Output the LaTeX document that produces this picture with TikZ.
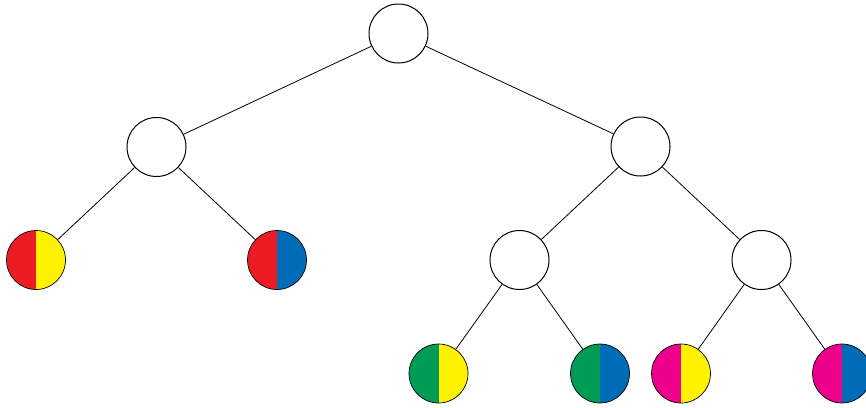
\documentclass[tikz,border=0pt]{standalone}
\usepackage{tikz}

\definecolor{cred}{HTML}{ED1C24}
\definecolor{cyellow}{HTML}{FFF200}
\definecolor{cblue}{HTML}{006BB6}
\definecolor{cgreen}{HTML}{009B55}
\definecolor{cmagenta}{HTML}{EC008C}

\tikzset{
  vertex/.style={circle,draw,line width=1pt,minimum size=59pt,inner sep=0pt,fill=white},
  halves/.style 2 args={vertex,line width=0.7pt,
    path picture={
      \fill[#1] (path picture bounding box.south west) rectangle (path picture bounding box.north);
      \fill[#2] (path picture bounding box.south) rectangle (path picture bounding box.north east);
    }},
  link/.style={line width=0.8pt}
}

\begin{document}
\begin{tikzpicture}[x=1pt,y=-1pt]
\useasboundingbox (0,0) rectangle (866,407);

%% Inner nodes
\node[vertex] (root) at (398.5,33.5) {};
\node[vertex] (l) at (156.5,147) {};
\node[vertex] (r) at (640.5,146.5) {};
\node[vertex] (rl) at (519.5,260) {};
\node[vertex] (rr) at (761.5,260) {};

%% Leaves
\node[halves={cred}{cyellow}] (ll) at (36,260) {};
\node[halves={cred}{cblue}] (lr) at (277,260) {};
\node[halves={cgreen}{cyellow}] (rll) at (438.5,373.5) {};
\node[halves={cgreen}{cblue}] (rlr) at (600,373.5) {};
\node[halves={cmagenta}{cyellow}] (rrl) at (681,373.5) {};
\node[halves={cmagenta}{cblue}] (rrr) at (842,373.5) {};

%% Edges
\draw[link] (root) -- (l);
\draw[link] (root) -- (r);
\draw[link] (l) -- (ll);
\draw[link] (l) -- (lr);
\draw[link] (r) -- (rl);
\draw[link] (r) -- (rr);
\draw[link] (rl) -- (rll);
\draw[link] (rl) -- (rlr);
\draw[link] (rr) -- (rrl);
\draw[link] (rr) -- (rrr);
\end{tikzpicture}
\end{document}
